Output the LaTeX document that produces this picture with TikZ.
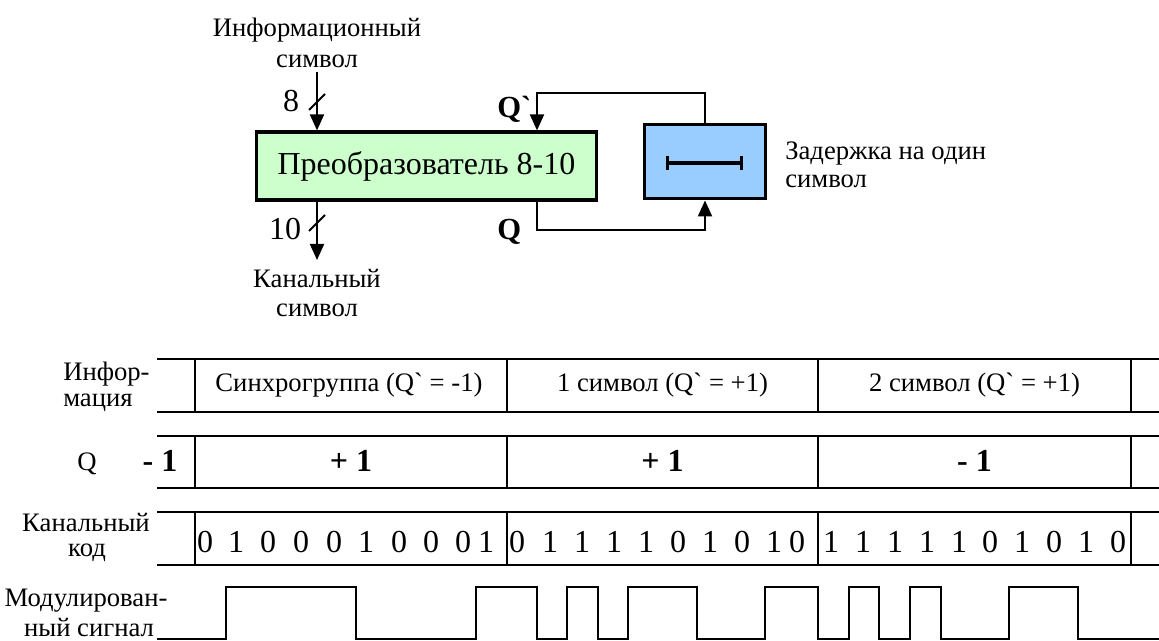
\documentclass[tikz,border=0pt]{standalone}
\usepackage{fontspec}
\setmainfont{Liberation Serif}[Ligatures=TeXOff]
\usetikzlibrary{arrows.meta}
\definecolor{convgreen}{HTML}{CCFFCC}
\definecolor{delayblue}{HTML}{99CCFF}
\begin{document}
\begin{tikzpicture}[x=0.75pt,y=-0.75pt,
  lbl/.style={font=\fontsize{20}{22}\selectfont, inner sep=0pt},
  big/.style={font=\fontsize{24}{28}\selectfont, inner sep=0pt},
  bbig/.style={font=\fontsize{24}{28}\selectfont\bfseries, inner sep=0pt},
  numlbl/.style={font=\fontsize{24}{28}\selectfont, inner sep=0pt},
  qlbl/.style={font=\fontsize{23}{26}\selectfont\bfseries, inner sep=0pt},
  convbox/.style={draw, line width=2.4pt, fill=convgreen, minimum width=255pt, minimum height=51pt, inner sep=0pt, font=\fontsize{24}{28}\selectfont},
  delaybox/.style={draw, line width=2.4pt, fill=delayblue, minimum width=91pt, minimum height=56pt, inner sep=0pt},
  conn/.style={line width=1.5pt},
  arr/.style={conn, -{Triangle[length=12pt,width=10.5pt]}},
  barline/.style={line width=2.4pt, {Bar[width=10pt]}-{Bar[width=10pt]}},
  tbl/.style={line width=1.5pt},
  wave/.style={line width=2.2pt}
]
\useasboundingbox (0,0) rectangle (1159,641);

% ---- block diagram ----
\node[convbox] (conv) at (426.5,166) {Преобразователь 8-10};
\node[delaybox] (delay) at (705,161.5) {};
\draw[barline] (666,163) -- (743,163);

\coordinate (inTop) at (317,72);
\coordinate (outEnd) at (317,260);
\draw[arr] (inTop) -- (inTop |- conv.north);
\draw[arr] (conv.south -| outEnd) -- (outEnd);
\draw[conn] (309,110) -- (325,94);
\draw[conn] (309,231) -- (325,215);

\node[numlbl, anchor=base] (n8) at (291,112) {8};
\node[numlbl, anchor=base] (n10) at (285,240) {10};
\node[lbl, anchor=base] (info1) at (317,37) {Информационный};
\node[lbl, anchor=base] (info2) at (317,68) {символ};
\node[lbl, anchor=base] (chan1) at (317,288) {Канальный};
\node[lbl, anchor=base] (chan2) at (317,317) {символ};

\node[qlbl, anchor=base west] (qprime) at (497,118) {Q`};
\node[qlbl, anchor=base west] (qout) at (497,240) {Q};

\node[lbl, anchor=base west] (del1) at (785,160) {Задержка на один};
\node[lbl, anchor=base west] (del2) at (785,188) {символ};

\coordinate (fbx) at (537,0);
\coordinate (fbtop) at (705,93);
\coordinate (fbbot) at (705,230);
\draw[arr] (delay.north) -- (fbtop) -- (fbtop -| fbx) -- (conv.north -| fbx);
\draw[arr] (conv.south -| fbx) -- (fbbot -| fbx) -- (fbbot) -- (delay.south);

% ---- table ----
\foreach \t/\b in {359/412, 436/488, 512/565} {
  \draw[tbl] (157,\t) -- (1159,\t);
  \draw[tbl] (157,\b) -- (1159,\b);
  \foreach \xx in {195,507,818,1131} \draw[tbl] (\xx,\t) -- (\xx,\b);
}

\node[lbl, anchor=base west] (r1a) at (63,380) {Инфор-};
\node[lbl, anchor=base west] (r1b) at (63,406) {мация};
\node[lbl, anchor=base] (c11) at (349,391) {Синхрогруппа (Q` = -1)};
\node[lbl, anchor=base] (c12) at (662.5,391) {1 символ (Q` = +1)};
\node[lbl, anchor=base] (c13) at (974.5,391) {2 символ (Q` = +1)};

\node[lbl, anchor=base] (r2) at (87,470) {Q};
\node[bbig, anchor=base] (q0) at (160,471) {- 1};
\node[bbig, anchor=base] (q1) at (351,471) {+ 1};
\node[bbig, anchor=base] (q2) at (662.5,471) {+ 1};
\node[bbig, anchor=base] (q3) at (974.5,471) {- 1};

\node[lbl, anchor=base] (r3a) at (86,531) {Канальный};
\node[lbl, anchor=base] (r3b) at (87,556) {код};
\foreach \d/\xx in {0/205,1/236,0/268,0/301,0/334,1/366,0/399,0/431,0/463,1/486,
                    0/517,1/550,1/582,1/614,1/646,0/678,1/710,0/742,1/774,0/797,
                    1/831,1/863,1/895,1/927,1/959,0/990,1/1022,0/1054,1/1086,0/1118}
  \node[big, anchor=base] (bit\xx) at (\xx,552) {\d};

\node[lbl, anchor=base] (r4a) at (86,606) {Модулирован-};
\node[lbl, anchor=base] (r4b) at (89,636) {ный сигнал};

\draw[wave] (157,639) -- (226,639) -- (226,587) -- (356,587) -- (356,639)
  -- (476,639) -- (476,587) -- (537,587) -- (537,639) -- (567,639) -- (567,587)
  -- (598,587) -- (598,639) -- (628,639) -- (628,587) -- (697,587) -- (697,639)
  -- (765,639) -- (765,587) -- (818,587) -- (818,639) -- (849,639) -- (849,587)
  -- (879,587) -- (879,639) -- (910,639) -- (910,587) -- (941,587) -- (941,639)
  -- (1009,639) -- (1009,587) -- (1078,587) -- (1078,639) -- (1159,639);
\end{tikzpicture}
\end{document}
